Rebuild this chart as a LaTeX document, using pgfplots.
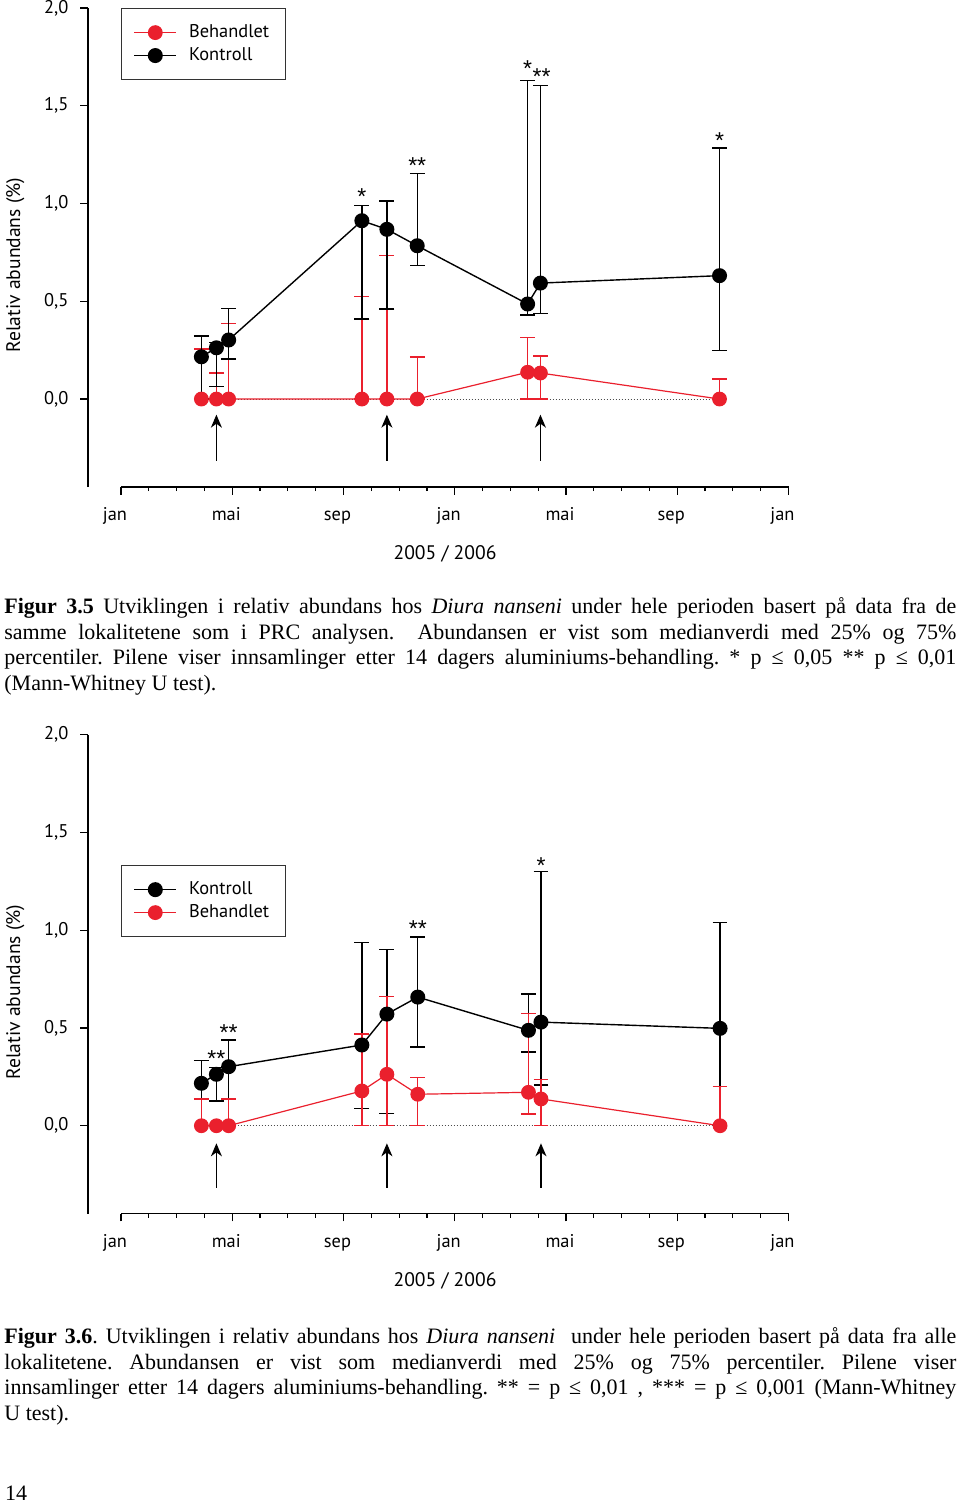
\documentclass[border=0pt]{standalone}
\usepackage{fontspec}
\setmainfont{Liberation Serif}
\newfontfamily\chartfont{PT Sans}
\newfontfamily\starfont{Liberation Sans}
\usepackage{pgfplots}
\pgfplotsset{compat=1.18}
\usepackage{pgfplotstable}
\usetikzlibrary{arrows.meta}
\definecolor{myred}{RGB}{234,32,45}

\pgfplotstableread{
x y lo hi
2.89 0.216 0.000 0.322
3.43 0.262 0.063 0.290
3.87 0.302 0.205 0.464
8.66 0.912 0.409 0.991
9.56 0.868 0.460 1.013
10.65 0.784 0.684 1.154
14.62 0.486 0.430 1.628
15.08 0.593 0.436 1.603
21.52 0.631 0.249 1.284
}\kontrollA

\pgfplotstableread{
x y lo hi
2.89 0 0 0.256
3.43 0 0 0.133
3.87 0 0 0.387
8.66 0 0 0.523
9.56 0 0 0.735
10.65 0 0 0.215
14.62 0.137 0 0.314
15.08 0.133 0 0.220
21.52 0 0 0.102
}\behandletA

\pgfplotstableread{
x y lo hi
2.89 0.217 0.000 0.332
3.43 0.263 0.126 0.297
3.87 0.302 0.000 0.438
8.66 0.413 0.087 0.938
9.56 0.571 0.061 0.900
10.67 0.658 0.403 0.965
14.65 0.488 0.377 0.674
15.10 0.530 0.208 1.299
21.54 0.498 0.000 1.038
}\kontrollB

\pgfplotstableread{
x y lo hi
2.89 0 0 0.136
3.43 0 0 0
3.87 0 0 0.136
8.66 0.178 0 0.469
9.56 0.263 0 0.662
10.67 0.161 0 0.246
14.65 0.171 0.060 0.574
15.10 0.137 0 0.237
21.54 0 0 0.199
}\behandletB

\newcommand\cf{\chartfont\fontsize{9.2}{11}\selectfont}
\newcommand\lf{\chartfont\fontsize{9.8}{11}\selectfont}

\tikzset{arr/.style={line width=0.75pt, -{Stealth[length=6.5pt, width=5.5pt, inset=2pt]}},
  star/.style={font=\starfont\fontsize{11.5}{12}\selectfont, inner sep=0pt, yshift=-1.9pt}}

\pgfplotsset{
  mychart/.style={
    scale only axis, width=350.25pt, height=239.5pt,
    xmin=-1.187, xmax=24, ymin=-0.45, ymax=2,
    axis lines*=left,
    axis line style={line width=0.7pt, -},
    x axis line style={draw=none},
    tick align=outside,
    major tick length=3.8pt, minor tick length=2pt,
    every tick/.style={black, line width=0.6pt},
    xtick={0,4,8,12,16,20,24},
    minor xtick={1,2,3,5,6,7,9,10,11,13,14,15,17,18,19,21,22,23},
    xticklabels={jan,mai,sep,jan,mai,sep,jan},
    ytick={0,0.5,1,1.5,2},
    yticklabels={{0,0},{0,5},{1,0},{1,5},{2,0}},
    tick label style={font=\cf},
    xticklabel style={anchor=base, xshift=-3pt, yshift=-13pt},
    yticklabel style={xshift=-2.5pt},
    clip=false,
    legend cell align=left,
    legend image code/.code={\draw[mark repeat=2,mark phase=2] plot coordinates {(0pt,0pt) (10.5pt,0pt) (21pt,0pt)};},
    legend style={draw=black!80, line width=0.6pt, font=\cf,
      inner xsep=6pt, inner ysep=6pt, row sep=-0.5pt,
      /tikz/every odd column/.append style={column sep=4pt}},
  },
  kline/.style={black, line width=0.7pt, mark=*, mark size=3.4pt, mark options={solid, fill=black},
    error bars/.cd, y dir=both, y explicit,
    error bar style={line width=0.65pt, black},
    error mark options={rotate=90, mark size=3.7pt, line width=0.65pt, black}},
  rline/.style={myred, line width=0.6pt, mark=*, mark size=3.4pt, mark options={solid, fill=myred, draw=myred},
    error bars/.cd, y dir=both, y explicit,
    error bar style={line width=0.65pt, myred},
    error mark options={rotate=90, mark size=3.7pt, line width=0.65pt, myred}},
}

\newcommand\capline[3]{\node[anchor=base west, inner sep=0pt, font=\fontsize{11}{13}\selectfont] at (2pt,-#1pt) {\frenchspacing\makebox[476pt][#3]{#2}};}

\begin{document}
\begin{tikzpicture}
\useasboundingbox (0,0) rectangle (480pt,-755.5pt);

% ---------------- Figure 3.5 ----------------
\begin{axis}[mychart, at={(44pt,-243.5pt)}, anchor=south west,
  legend style={at={(axis cs:0,2)}, anchor=north west}]
\addplot[densely dotted, black!70, line width=0.5pt, forget plot] coordinates {(3.87,0) (21.52,0)};
\addplot[rline] table[x=x, y=y, y error plus expr=\thisrow{hi}-\thisrow{y}, y error minus expr=\thisrow{y}-\thisrow{lo}] {\behandletA};
\addlegendentry{Behandlet}
\addplot[kline] table[x=x, y=y, y error plus expr=\thisrow{hi}-\thisrow{y}, y error minus expr=\thisrow{y}-\thisrow{lo}] {\kontrollA};
\addlegendentry{Kontroll}
\draw[line width=0.7pt] (axis cs:0,-0.45) -- (axis cs:24,-0.45);
\draw[arr] (axis cs:3.43,-0.316) -- (axis cs:3.43,-0.08);
\draw[arr] (axis cs:9.56,-0.316) -- (axis cs:9.56,-0.08);
\draw[arr] (axis cs:15.08,-0.316) -- (axis cs:15.08,-0.08);
\node[star] at (axis cs:8.66,1.054) {*};
\node[star] at (axis cs:10.65,1.212) {**};
\node[star] at (axis cs:14.62,1.708) {*};
\node[star] at (axis cs:15.12,1.668) {**};
\node[star] at (axis cs:21.52,1.340) {*};
\node[font=\lf, rotate=90] at (axis cs:-3.8,0.685) {Relativ abundans (\%)};
\node[font=\lf] at (axis cs:11.65,-0.793) {2005 / 2006};
\end{axis}

% ---------------- Figure 3.6 ----------------
\begin{axis}[mychart, at={(44pt,-606.85pt)}, anchor=south west,
  legend style={at={(axis cs:0,1.333)}, anchor=north west}]
\addplot[densely dotted, black!70, line width=0.5pt, forget plot] coordinates {(3.87,0) (21.54,0)};
\addplot[kline] table[x=x, y=y, y error plus expr=\thisrow{hi}-\thisrow{y}, y error minus expr=\thisrow{y}-\thisrow{lo}] {\kontrollB};
\addlegendentry{Kontroll}
\addplot[rline] table[x=x, y=y, y error plus expr=\thisrow{hi}-\thisrow{y}, y error minus expr=\thisrow{y}-\thisrow{lo}] {\behandletB};
\addlegendentry{Behandlet}
\draw[line width=0.7pt] (axis cs:0,-0.45) -- (axis cs:24,-0.45);
\draw[arr] (axis cs:3.43,-0.316) -- (axis cs:3.43,-0.09);
\draw[arr] (axis cs:9.56,-0.316) -- (axis cs:9.56,-0.09);
\draw[arr] (axis cs:15.10,-0.316) -- (axis cs:15.10,-0.09);
\node[star] at (axis cs:3.43,0.362) {**};
\node[star] at (axis cs:3.87,0.495) {**};
\node[star] at (axis cs:10.67,1.027) {**};
\node[star] at (axis cs:15.10,1.350) {*};
\node[font=\lf, rotate=90] at (axis cs:-3.8,0.684) {Relativ abundans (\%)};
\node[font=\lf] at (axis cs:11.65,-0.794) {2005 / 2006};
\end{axis}

% ---------------- Captions ----------------
\capline{306.75}{\textbf{Figur 3.5} Utviklingen i relativ abundans hos \textit{Diura nanseni} under hele perioden basert på data fra de}{s}
\capline{319.6}{samme lokalitetene som i PRC analysen.\ \ Abundansen er vist som medianverdi med 25\% og 75\%}{s}
\capline{332.45}{percentiler. Pilene viser innsamlinger etter 14 dagers aluminiums-behandling. * p ≤ 0,05 ** p ≤ 0,01}{s}
\capline{345.3}{(Mann-Whitney U test).}{l}

\capline{671.75}{\textbf{Figur 3.6}. Utviklingen i relativ abundans hos \textit{Diura nanseni}\ \ under hele perioden basert på data fra alle}{s}
\capline{684.6}{lokalitetene. Abundansen er vist som medianverdi med 25\% og 75\% percentiler. Pilene viser}{s}
\capline{697.45}{innsamlinger etter 14 dagers aluminiums-behandling.\ ** = p ≤ 0,01 , *** = p ≤ 0,001 (Mann-Whitney}{s}
\capline{710.3}{U test).}{l}

\node[anchor=base west, inner sep=0pt, font=\fontsize{11}{13}\selectfont] at (2.35pt,-750.35pt) {14};
\end{tikzpicture}
\end{document}
